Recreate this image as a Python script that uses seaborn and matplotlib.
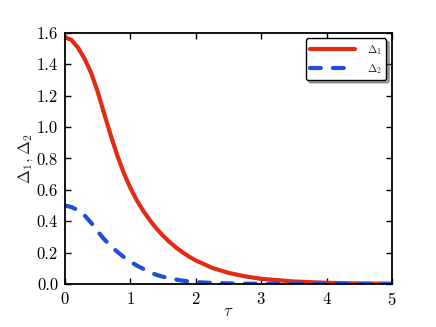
import numpy as np
import pandas as pd
import seaborn as sns
import matplotlib.pyplot as plt

# values
tau = [0.0, 0.1, 0.2, 0.3, 0.4, 0.5, 0.6, 0.7, 0.8, 0.9, 1.0,
       1.1, 1.2, 1.3, 1.4, 1.5, 1.6, 1.7, 1.8, 1.9, 2.0,
       2.25, 2.5, 2.75, 3.0, 3.5, 4.0, 4.5, 5.0]
delta1 = [1.572, 1.555, 1.505, 1.435, 1.345, 1.225, 1.085, 0.947, 0.819, 0.707, 0.612,
          0.532, 0.464, 0.405, 0.353, 0.307, 0.267, 0.232, 0.201, 0.174, 0.150,
          0.103, 0.071, 0.049, 0.033, 0.016, 0.0075, 0.0035, 0.0017]
delta2 = [0.50, 0.49, 0.47, 0.437, 0.39, 0.335, 0.285, 0.242, 0.205, 0.172, 0.143,
          0.117, 0.096, 0.075, 0.058, 0.046, 0.036, 0.028, 0.021, 0.016, 0.012,
          0.007, 0.004, 0.0022, 0.0012, 0.0005, 0.0002, 0.0001, 0.0]

df = pd.DataFrame({'tau': tau, 'd1': delta1, 'd2': delta2})

sns.set_theme(style='ticks')
plt.rcParams['font.family'] = ['cmr10', 'DejaVu Serif']
plt.rcParams['mathtext.fontset'] = 'cm'
plt.rcParams['axes.formatter.use_mathtext'] = True
plt.rcParams['axes.unicode_minus'] = False

fig = plt.figure(figsize=(4.36, 3.27), dpi=100)
ax = fig.add_axes([0.149, 0.1315, 0.75, 0.768])

sns.lineplot(data=df, x='tau', y='d1', ax=ax, color='#e52a14', lw=3,
             label=r'$\Delta_1$')
sns.lineplot(data=df, x='tau', y='d2', ax=ax, color='#1f4fd8', lw=3,
             label=r'$\Delta_2$')
line2 = ax.lines[1]
line2.set_dashes((2.6, 2.9))
line2.set_dash_capstyle('round')

ax.set_xlim(0, 5)
ax.set_ylim(0, 1.6)
ax.set_xticks([0, 1, 2, 3, 4, 5])
ax.set_yticks(np.arange(0, 1.61, 0.2))
ax.set_yticklabels(['%.1f' % v for v in np.arange(0, 1.61, 0.2)])
ax.tick_params(direction='in', length=4, width=1, top=True, right=True,
               labelsize=12, colors='black', pad=5)
for s in ax.spines.values():
    s.set_linewidth(1.3)
    s.set_color('black')

ax.set_xlabel(r'$\tau$', fontsize=12, labelpad=-3)
ax.set_ylabel(r'$\Delta_1, \Delta_2$', fontsize=12, labelpad=1.5)

leg = ax.legend(loc='upper right', fontsize=8, fancybox=True, shadow=True,
                framealpha=1, edgecolor='black', handlelength=4,
                handletextpad=1.1, borderaxespad=0.5, labelspacing=0.45)
leg.get_frame().set_linewidth(1)
for h in leg.get_lines():
    h.set_linewidth(3)
leg.get_lines()[1].set_dashes((2.6, 2.9))
leg.get_lines()[1].set_dash_capstyle('round')

fig.savefig('out.png', dpi=100)
